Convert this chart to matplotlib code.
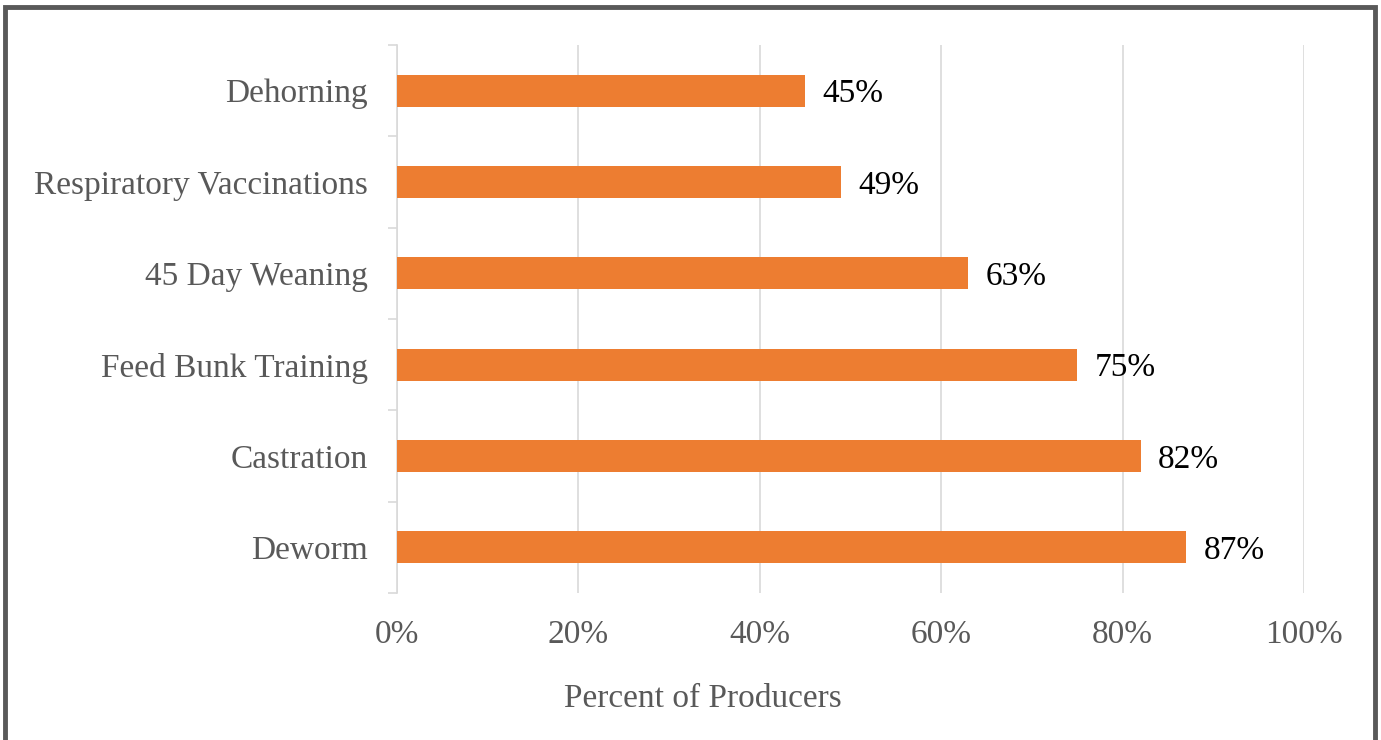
import matplotlib
matplotlib.use("Agg")
import matplotlib.pyplot as plt
from matplotlib.patches import Rectangle

categories = ["Deworm", "Castration", "Feed Bunk Training", "45 Day Weaning",
              "Respiratory Vaccinations", "Dehorning"]
values = [87, 82, 75, 63, 49, 45]
xticks = [0, 20, 40, 60, 80, 100]
xtick_labels = ["0%", "20%", "40%", "60%", "80%", "100%"]

plt.rcParams['font.family'] = ['Liberation Serif', 'DejaVu Serif']

W, H = 1381, 740
FS = 24
fig = plt.figure(figsize=(W/100, H/100), dpi=100)
ax = fig.add_axes([397/W, 1-593/H, (1304-397)/W, (593-45)/H])

y = list(range(len(categories)))
ax.barh(y, values, height=0.35, color="#ED7D31", zorder=3)
for yi, v in zip(y, values):
    ax.text(v + 1.9, yi, f"{v}%", va="center_baseline", ha="left", fontsize=FS, color="black")

ax.set_xlim(0, 100)
ax.set_ylim(-0.5, len(categories)-0.5)
ax.set_xticks(xticks)
ax.set_xticklabels(xtick_labels, fontsize=FS, color="#595959")
ax.set_yticks(y)
ax.set_yticklabels(categories, fontsize=FS, color="#595959")
ax.tick_params(axis='y', length=0, pad=21)
ax.tick_params(axis='x', length=0, pad=19)
# category boundary ticks
ax.set_yticks([i - 0.5 for i in range(len(categories)+1)], minor=True)
ax.tick_params(axis='y', which='minor', length=6.5, color="#D9D9D9", width=1.2)
ax.grid(axis='x', color="#D9D9D9", linewidth=1.2, zorder=0)
for s in ["top", "right", "bottom"]:
    ax.spines[s].set_visible(False)
ax.spines["left"].set_color("#D9D9D9")
ax.spines["left"].set_linewidth(1.2)
ax.set_xlabel("Percent of Producers", fontsize=FS, color="#595959", labelpad=22)
ax.xaxis.set_label_coords((703-397)/(1304-397), -0.165)

fig.patches.append(Rectangle((5/W, -0.05), (1375-5)/W, 1.05 - 7.5/H,
                             transform=fig.transFigure, fill=False,
                             edgecolor="#595959", linewidth=3.5))
fig.savefig("out.png", dpi=100)
